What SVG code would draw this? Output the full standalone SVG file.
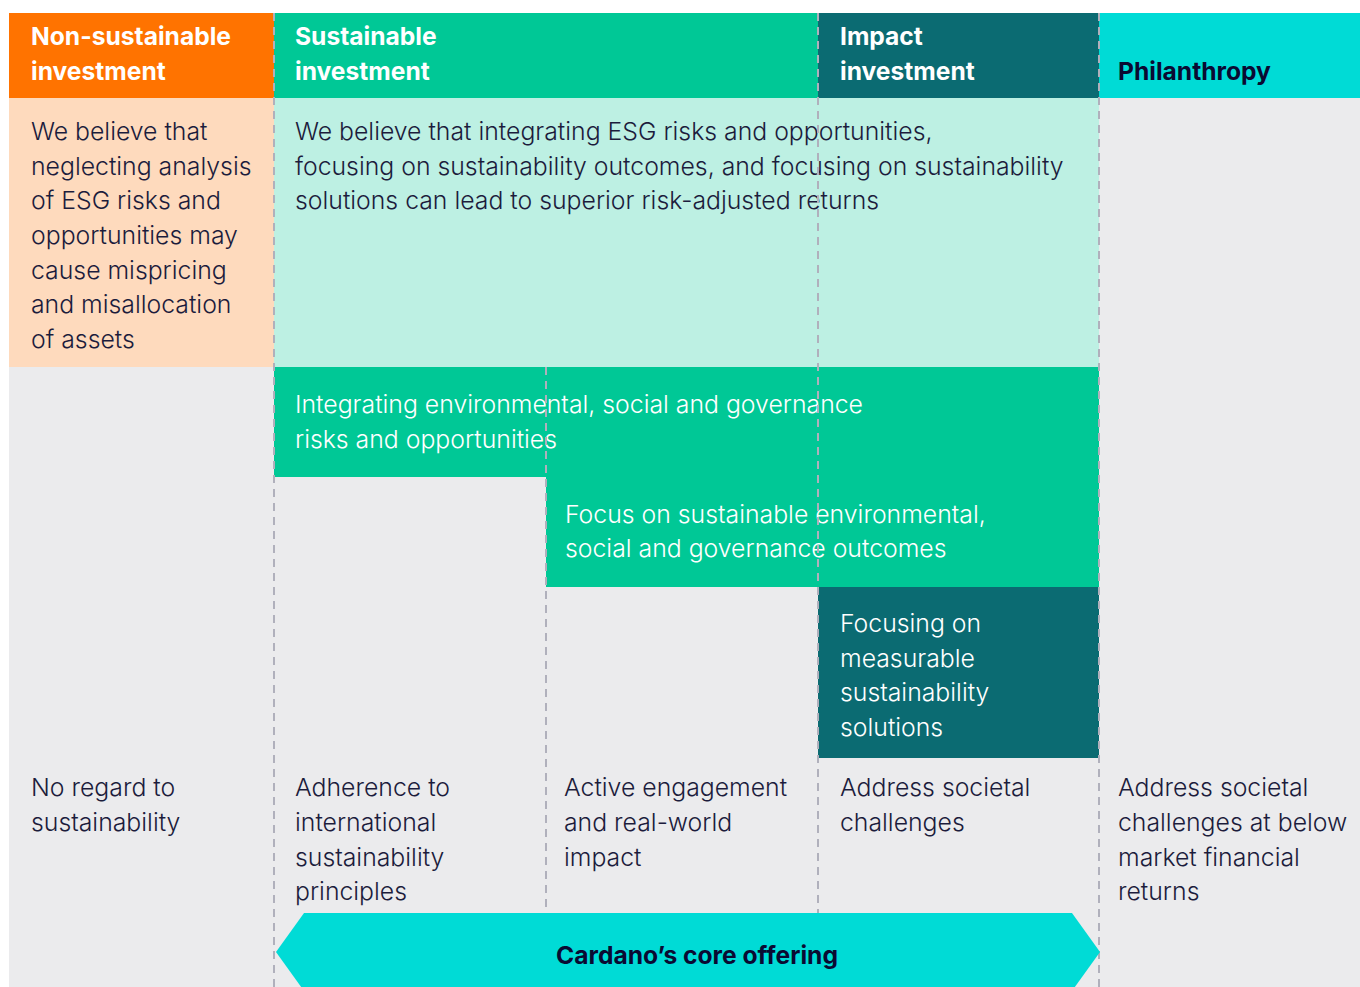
<svg xmlns="http://www.w3.org/2000/svg" width="1360" height="987" viewBox="0 0 1360 987">
<style>
.hd{font-family:Inter,"Liberation Sans",sans-serif;font-weight:700;font-size:24.6px;fill:#ffffff}
.bd{font-family:Inter,"Liberation Sans",sans-serif;font-weight:300;font-size:24.8px;fill:#1c1c3c}
.wt{font-family:Inter,"Liberation Sans",sans-serif;font-weight:300;font-size:24.8px;fill:#ffffff}
.dash{stroke:#b0b0bc;stroke-width:2;stroke-dasharray:8 6;fill:none}
</style>
<rect x="0" y="0" width="1360" height="987" fill="#ffffff"/>
<rect x="9" y="13" width="1351" height="974" fill="#ebebed"/>
<g id="header-nonsustainable">
<rect x="9" y="13" width="265" height="85" fill="#ff7300"/>
<text class="hd" x="31" y="45">Non-sustainable</text>
<text class="hd" x="31" y="80">investment</text>
</g>
<g id="header-sustainable">
<rect x="274" y="13" width="544" height="85" fill="#00c896"/>
<text class="hd" x="295" y="45">Sustainable</text>
<text class="hd" x="295" y="80">investment</text>
</g>
<g id="header-impact">
<rect x="818" y="13" width="281" height="85" fill="#0b6b72"/>
<text class="hd" x="840" y="45">Impact</text>
<text class="hd" x="840" y="80">investment</text>
</g>
<g id="header-philanthropy">
<rect x="1099" y="13" width="261" height="85" fill="#00dbd6"/>
<text class="hd" x="1118" y="80" style="fill:#0a0a32">Philanthropy</text>
</g>
<g id="belief-nonsustainable">
<rect x="9" y="98" width="265" height="269" fill="#fedabd"/>
<text class="bd" x="31" y="140">We believe that</text>
<text class="bd" x="31" y="175">neglecting analysis</text>
<text class="bd" x="31" y="209">of ESG risks and</text>
<text class="bd" x="31" y="244">opportunities may</text>
<text class="bd" x="31" y="279">cause mispricing</text>
<text class="bd" x="31" y="313">and misallocation</text>
<text class="bd" x="31" y="348">of assets</text>
</g>
<g id="belief-sustainable">
<rect x="274" y="98" width="825" height="269" fill="#bdf0e3"/>
<text class="bd" x="295" y="140">We believe that integrating ESG risks and opportunities,</text>
<text class="bd" x="295" y="175">focusing on sustainability outcomes, and focusing on sustainability</text>
<text class="bd" x="295" y="209">solutions can lead to superior risk-adjusted returns</text>
</g>
<g id="integrating-esg">
<rect x="274" y="367" width="825" height="110" fill="#00c896"/>
<text class="wt" x="295" y="413">Integrating environmental, social and governance</text>
<text class="wt" x="295" y="448">risks and opportunities</text>
</g>
<g id="focus-outcomes">
<rect x="546" y="477" width="553" height="110" fill="#00c896"/>
<text class="wt" x="565" y="523">Focus on sustainable environmental,</text>
<text class="wt" x="565" y="557">social and governance outcomes</text>
</g>
<g id="focus-solutions">
<rect x="818" y="587" width="281" height="171" fill="#0b6b72"/>
<text class="wt" x="840" y="632">Focusing on</text>
<text class="wt" x="840" y="667">measurable</text>
<text class="wt" x="840" y="701">sustainability</text>
<text class="wt" x="840" y="736">solutions</text>
</g>
<g id="outcome-nonsustainable">
<text class="bd" x="31" y="796">No regard to</text>
<text class="bd" x="31" y="831">sustainability</text>
</g>
<g id="outcome-principles">
<text class="bd" x="295" y="796">Adherence to</text>
<text class="bd" x="295" y="831">international</text>
<text class="bd" x="295" y="866">sustainability</text>
<text class="bd" x="295" y="900">principles</text>
</g>
<g id="outcome-engagement">
<text class="bd" x="564" y="796">Active engagement</text>
<text class="bd" x="564" y="831">and real-world</text>
<text class="bd" x="564" y="866">impact</text>
</g>
<g id="outcome-impact">
<text class="bd" x="840" y="796">Address societal</text>
<text class="bd" x="840" y="831">challenges</text>
</g>
<g id="outcome-philanthropy">
<text class="bd" x="1118" y="796">Address societal</text>
<text class="bd" x="1118" y="831">challenges at below</text>
<text class="bd" x="1118" y="866">market financial</text>
<text class="bd" x="1118" y="900">returns</text>
</g>
<g id="connectors">
<line class="dash" x1="274" y1="13" x2="274" y2="987"/>
<line class="dash" x1="546" y1="367" x2="546" y2="987"/>
<line class="dash" x1="818" y1="13" x2="818" y2="987"/>
<line class="dash" x1="1099" y1="13" x2="1099" y2="987"/>
</g>
<g id="core-offering">
<polygon points="304,913 1072,913 1100,952 1072,991 304,991 276,952" fill="#00dbd6"/>
<text x="697" y="964" text-anchor="middle" style="font-family:Inter,'Liberation Sans',sans-serif;font-weight:700;font-size:24.6px;fill:#0a0a32">Cardano’s core offering</text>
</g>
</svg>
